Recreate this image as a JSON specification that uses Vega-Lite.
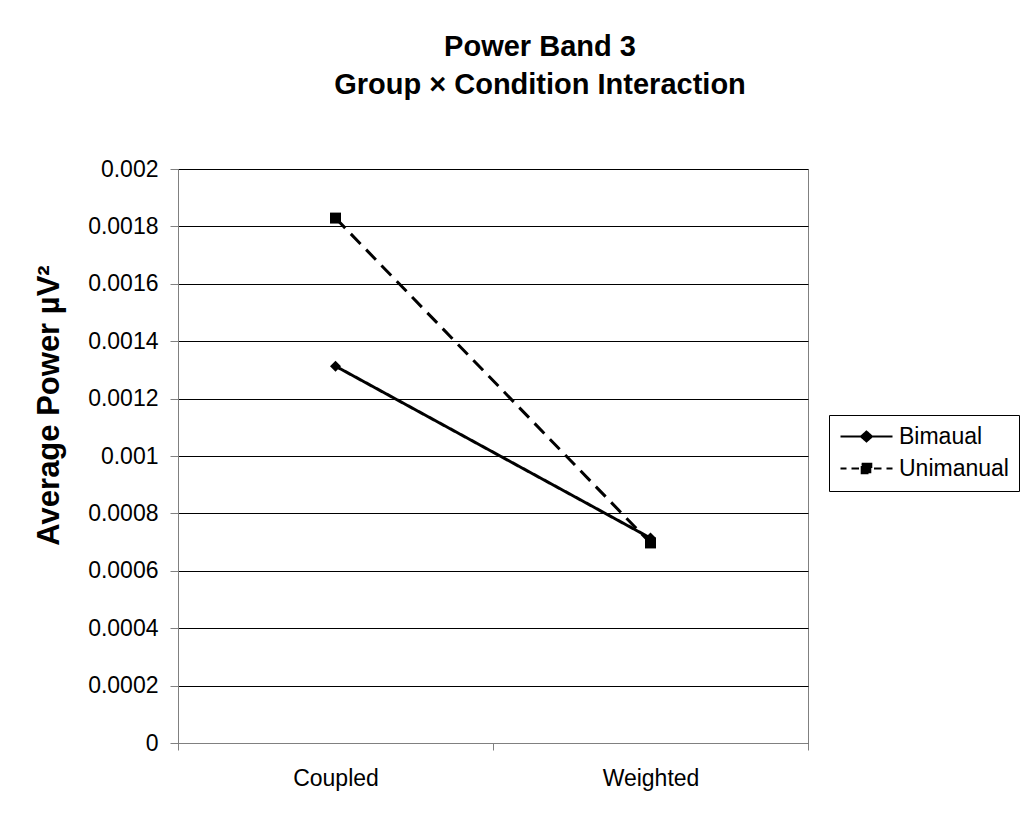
{
  "$schema": "https://vega.github.io/schema/vega-lite/v6.json",
  "width": 630,
  "height": 574,
  "autosize": "none",
  "padding": {"left": 178, "top": 169, "right": 215, "bottom": 76},
  "background": "white",
  "title": {
    "text": ["Power Band 3", "Group × Condition Interaction"],
    "font": "Liberation Sans",
    "fontSize": 29,
    "fontWeight": "bold",
    "color": "black",
    "anchor": "middle",
    "dx": 47,
    "offset": 58,
    "lineHeight": 38
  },
  "data": {
    "values": [
      {"condition": "Coupled", "group": "Unimanual", "power": 0.001829},
      {"condition": "Weighted", "group": "Unimanual", "power": 0.000697},
      {"condition": "Coupled", "group": "Bimaual", "power": 0.001313},
      {"condition": "Weighted", "group": "Bimaual", "power": 0.000714}
    ]
  },
  "encoding": {
    "x": {
      "field": "condition",
      "type": "nominal",
      "scale": {"type": "band", "paddingInner": 0, "paddingOuter": 0},
      "axis": {
        "title": null,
        "labelAngle": 0,
        "labelFont": "Liberation Sans",
        "labelFontSize": 23,
        "labelColor": "black",
        "labelPadding": 17,
        "domainColor": "#808080",
        "tickColor": "#808080",
        "tickSize": 7,
        "tickBand": "extent",
        "grid": false
      }
    },
    "y": {
      "field": "power",
      "type": "quantitative",
      "scale": {"domain": [0, 0.002], "nice": false},
      "axis": {
        "title": "Average Power µV²",
        "titleFont": "Liberation Sans",
        "titleFontSize": 31,
        "titleFontWeight": "bold",
        "titleColor": "black",
        "titlePadding": 22,
        "titleY": 236,
        "titleAlign": "center",
        "values": [0, 0.0002, 0.0004, 0.0006, 0.0008, 0.001, 0.0012, 0.0014, 0.0016, 0.0018, 0.002],
        "format": "~f",
        "labelFont": "Liberation Sans",
        "labelFontSize": 23,
        "labelColor": "black",
        "labelPadding": 12,
        "domainColor": "#808080",
        "tickColor": "#808080",
        "tickSize": 8,
        "grid": true,
        "gridColor": "black",
        "gridWidth": 1
      }
    }
  },
  "layer": [
    {
      "mark": {"type": "line", "color": "black", "strokeWidth": 3},
      "encoding": {
        "strokeDash": {
          "field": "group",
          "type": "nominal",
          "scale": {"domain": ["Bimaual", "Unimanual"], "range": [[1, 0], [14, 8]]},
          "legend": {
            "title": null,
            "orient": "none",
            "legendX": 651,
            "legendY": 246,
            "strokeColor": "black",
            "fillColor": "white",
            "padding": 10,
            "labelFont": "Liberation Sans",
            "labelFontSize": 23,
            "labelColor": "black",
            "symbolSize": 400,
            "symbolOffset": 16,
            "symbolStrokeWidth": 2,
            "symbolStrokeColor": "black",
            "symbolFillColor": "black",
            "rowPadding": 8,
            "labelOffset": 21,
            "encode": {
              "symbols": {
                "update": {
                  "shape": {"signal": "datum.value === 'Bimaual' ? 'M-2.6,0L2.6,0M-0.55,0L0,-0.5L0.55,0L0,0.5Z' : 'M-2.6,0L-2.0,0M-1.5,0L-0.75,0M0.75,0L1.5,0M2.0,0L2.6,0M-0.48,-0.48L0.48,-0.48L0.48,0.48L-0.48,0.48Z'"},
                  "fill": {"value": "black"},
                  "stroke": {"value": "black"},
                  "strokeWidth": {"value": 2},
                  "strokeDash": {"value": [1, 0]}
                }
              }
            }
          }
        }
      }
    },
    {
      "mark": {"type": "point", "filled": true, "color": "black", "opacity": 1, "size": 120},
      "encoding": {
        "shape": {
          "field": "group",
          "type": "nominal",
          "scale": {"domain": ["Unimanual", "Bimaual"], "range": ["square", "diamond"]},
          "legend": null
        }
      }
    }
  ],
  "config": {
    "view": {"stroke": "#808080", "strokeWidth": 1}
  }
}
